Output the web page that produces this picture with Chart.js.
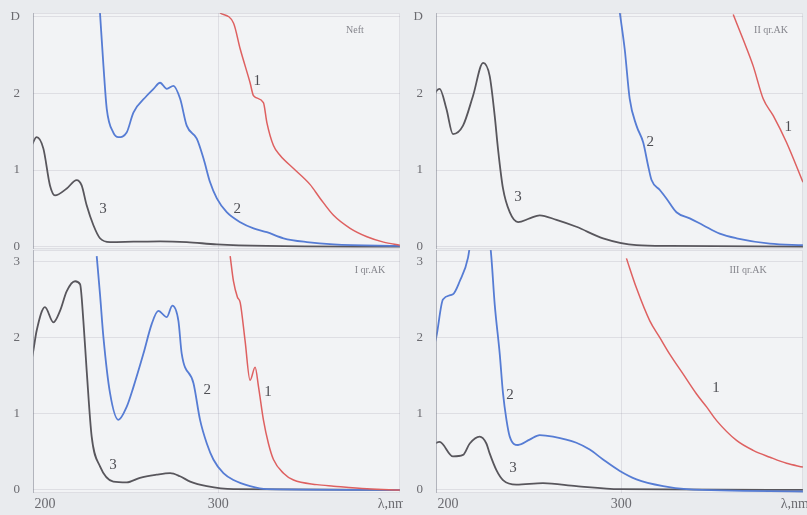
<!DOCTYPE html>
<html>
<head>
<meta charset="utf-8">
<script src="https://cdn.jsdelivr.net/npm/chart.js@4.4.1/dist/chart.umd.min.js"></script>
<style>
  html, body { margin: 0; padding: 0; background: #e9ebee; }
  #wrap { position: relative; width: 807px; height: 515px; overflow: hidden; }
  canvas { position: absolute; }
</style>
</head>
<body>
<div id="wrap">
  <canvas id="c-neft" width="403" height="250" style="left:0;top:0"></canvas>
  <canvas id="c-g2"   width="404" height="250" style="left:403px;top:0"></canvas>
  <canvas id="c-g1"   width="403" height="265" style="left:0;top:250px"></canvas>
  <canvas id="c-g3"   width="404" height="265" style="left:403px;top:250px"></canvas>
</div>
<script>
'use strict';

/* ── DATA: [wavelength nm, optical density D] ───────────── */
const wlTicks = [200, 300];
const dTicks  = [0, 1, 2, 3];

// Neft
const neft1 = [[301,3.05],[308.8,2.92],[312.7,2.58],[318.4,2.14],[320.4,1.97],[326.1,1.88],[328.1,1.62],
  [331.9,1.32],[335.8,1.19],[343.5,1.02],[353.1,0.81],[358.9,0.63],[366.6,0.41],[376.2,0.24],[385.9,0.13],
  [395.5,0.06],[405,0.02]];
const neft2 = [[231.7,3.05],[233.7,2.36],[235.6,1.8],[239.4,1.49],[242.3,1.43],[247.1,1.49],[251,1.75],
  [258.7,1.97],[262.6,2.06],[266.4,2.14],[270.3,2.06],[274.1,2.1],[278,1.93],[281.8,1.58],[287.6,1.41],
  [291.5,1.15],[295.3,0.84],[299.2,0.63],[304.9,0.45],[312.7,0.32],[320.4,0.24],[328.1,0.19],[337.7,0.11],
  [351.2,0.06],[366.6,0.03],[405,0.01]];
const neft3 = [[192.2,1.32],[195.1,1.43],[199,1.28],[202.8,0.8],[205.7,0.67],[212.5,0.76],[218.2,0.87],
  [221.1,0.8],[224,0.54],[227.9,0.28],[231.7,0.11],[237.5,0.06],[251,0.065],[266.4,0.07],[281.8,0.06],
  [299.2,0.03],[328,0.01],[405,0.0]];

// II qr. AK
const g2c1 = [[364.7,3.03],[370.5,2.7],[376.2,2.36],[382,1.93],[387.8,1.71],[395.5,1.36],[405,0.84]];
const g2c2 = [[299.2,3.05],[302,2.58],[304.9,1.93],[308.8,1.58],[312.7,1.36],[315.5,1.06],[317.5,0.87],
  [322.3,0.74],[326.1,0.63],[331.9,0.45],[339.6,0.37],[347.3,0.28],[356.9,0.17],[366.6,0.11],[385.9,0.04],
  [405,0.02]];
const g2c3 = [[189.7,1.75],[191.3,1.93],[195.1,2.06],[199,1.8],[202.8,1.47],[208.6,1.58],[214.4,1.97],
  [220.2,2.4],[224,2.23],[226.9,1.71],[228.8,1.28],[231.7,0.76],[235.6,0.45],[240.4,0.32],[247.1,0.37],
  [252.9,0.41],[262.6,0.35],[274.1,0.26],[289.5,0.11],[308.8,0.02],[328,0.01],[405,0.0]];

// I qr. AK
const g1c1 = [[306.9,3.07],[308.8,2.74],[311.1,2.53],[312.7,2.46],[315.5,1.96],[318.4,1.44],[321.3,1.61],
  [323.3,1.35],[326.1,0.92],[329,0.61],[331.9,0.4],[337.7,0.22],[343.5,0.13],[357,0.07],[366.6,0.05],
  [385.9,0.015],[405,0.0]];
const g1c2 = [[229.8,3.07],[231.7,2.57],[233.7,2.0],[237.5,1.27],[242.3,0.92],[247.1,1.09],[251,1.35],
  [256.8,1.79],[261.6,2.18],[265.4,2.35],[270.3,2.27],[273.5,2.42],[277,2.22],[278.9,1.79],[285.7,1.4],
  [289.5,0.92],[293.4,0.61],[297.2,0.4],[303,0.22],[308.8,0.13],[318.4,0.05],[328.1,0.01],[405,0.0]];
const g1c3 = [[191.3,1.61],[193.2,1.83],[195.1,2.09],[199.9,2.4],[204.8,2.2],[208.6,2.35],[212.5,2.61],
  [217.3,2.74],[220.2,2.7],[222.1,2.22],[224,1.57],[226.9,0.7],[231.7,0.31],[239.4,0.11],[247.1,0.1],
  [254.8,0.16],[264.4,0.2],[272.2,0.22],[277.9,0.18],[283.8,0.11],[293.4,0.05],[308.8,0.01],[405,0.0]];

// III qr. AK
const g3c1 = [[303,3.04],[308.8,2.65],[316.5,2.22],[322.3,2.0],[328.1,1.78],[335.8,1.52],[343.5,1.26],
  [349.3,1.09],[355.1,0.91],[366.6,0.65],[376.2,0.52],[385.9,0.43],[395.5,0.35],[405,0.3]];
const g3c2 = [[189.3,1.67],[191.3,1.85],[193.2,2.01],[197,2.5],[202.8,2.57],[206.7,2.74],[211.5,3.05],
  [215,3.6],[219,3.8],[222.5,3.6],[225,3.05],[226.9,2.44],[229.8,1.79],[231.7,1.27],[233.7,0.92],
  [235.6,0.7],[240.4,0.59],[247.1,0.66],[252.9,0.72],[260.6,0.7],[274.1,0.62],[281.8,0.53],[289.5,0.4],
  [299.2,0.25],[308.8,0.14],[324.2,0.05],[337.7,0.01],[405,-0.02]];
const g3c3 = [[189.3,0.57],[195.1,0.63],[202.8,0.44],[208.6,0.46],[212.5,0.61],[218.2,0.7],[222.1,0.61],
  [224,0.48],[227.9,0.26],[231.7,0.13],[239.4,0.07],[254.8,0.09],[274.1,0.05],[299.2,0.01],[405,0.0]];

/* ── CURVE NUMBER LABELS (data coords) ───────────── */
const neftTags = [['1',322.5,2.16],['2',311,0.49],['3',233.5,0.49]];
const g2Tags   = [['1',396.5,1.56],['2',316.7,1.36],['3',240.4,0.65]];
const g1Tags   = [['1',328.8,1.29],['2',293.6,1.31],['3',239.2,0.33]];
const g3Tags   = [['1',354.8,1.34],['2',235.8,1.25],['3',237.5,0.29]];

/* ── STYLE ───────────── */
const red   = 'rgb(222,96,96)';
const blue  = 'rgb(86,124,212)';
const dark  = 'rgb(88,86,92)';
const gridC = 'rgba(150,152,165,0.22)';
const axisC = 'rgba(125,128,140,0.45)';
const txtC  = '#6b6b70';
const serif = '"Liberation Serif", "DejaVu Serif", serif';

const toPts = arr => arr.map(([x, y]) => ({ x, y }));

// kill the label-overflow padding chart.js adds around the plot
const noPad = s => { s.paddingTop = 0; s.paddingBottom = 0; s.paddingLeft = 0; s.paddingRight = 0; };

// Plugin: plot fill, frame, curve numbers, panel title, λ label
const decor = {
  id: 'decor',
  beforeDraw(chart) {
    const { ctx, chartArea: a } = chart;
    ctx.save();
    ctx.fillStyle = '#f2f3f5';
    ctx.fillRect(a.left, a.top, a.right - a.left, a.bottom - a.top);
    ctx.restore();
  },
  afterDatasetsDraw(chart, args, o) {
    const { ctx, chartArea: a, scales: { x, y } } = chart;
    ctx.save();
    ctx.strokeStyle = gridC;
    ctx.lineWidth = 1;
    ctx.strokeRect(a.left + 0.5, a.top + 0.5, a.right - a.left - 1, a.bottom - a.top - 1);
    ctx.strokeStyle = axisC;
    ctx.beginPath();
    ctx.moveTo(a.left + 0.5, a.top);
    ctx.lineTo(a.left + 0.5, a.bottom);
    ctx.stroke();

    ctx.fillStyle = '#4e4e54';
    ctx.font = '15px ' + serif;
    ctx.textAlign = 'center';
    ctx.textBaseline = 'middle';
    o.tags.forEach(([t, vx, vy]) => ctx.fillText(t, x.getPixelForValue(vx), y.getPixelForValue(vy)));

    ctx.fillStyle = '#85858c';
    ctx.font = '10px ' + serif;
    ctx.fillText(o.title, a.right + o.titleDx, a.top + o.titleDy);

    if (o.lambda) {
      ctx.fillStyle = txtC;
      ctx.font = '14px ' + serif;
      ctx.textAlign = 'right';
      ctx.fillText('λ,nm', a.right + 6, a.bottom + 11);
    }
    ctx.restore();
  },
};

function makePanel(id, series, tags, title, titleDx, titleDy, bottom, padRight) {
  const colors = [red, blue, dark];
  new Chart(document.getElementById(id), {
    type: 'line',
    data: {
      datasets: series.map((s, i) => ({
        data: toPts(s),
        borderColor: colors[i],
        borderWidth: i === 0 ? 1.5 : 1.8,
        pointRadius: 0,
        cubicInterpolationMode: 'monotone',
        fill: false,
      })),
    },
    options: {
      responsive: false,
      animation: false,
      layout: { padding: { top: bottom ? 0 : 13, right: padRight, left: 0, bottom: 0 } },
      plugins: {
        legend: { display: false },
        tooltip: { enabled: false },
        decor: { tags, title, titleDx, titleDy, lambda: bottom },
      },
      scales: {
        x: {
          type: 'linear',
          min: 193,
          max: 405,
          afterBuildTicks: s => { s.ticks = wlTicks.map(v => ({ value: v })); },
          afterFit: s => { s.height = bottom ? 22 : 1; noPad(s); },
          grid: { color: c => (c.tick && c.tick.value === 300 ? gridC : 'transparent'), drawTicks: false },
          border: { display: false },
          ticks: { display: bottom, color: txtC, padding: 3, font: { family: serif, size: 14 } },
        },
        y: {
          min: bottom ? -0.04 : -0.03,
          max: bottom ? 3.15 : 3.05,
          afterBuildTicks: s => { s.ticks = dTicks.map(v => ({ value: v })); },
          afterFit: s => { s.width = 33; noPad(s); },
          grid: { color: gridC, drawTicks: false },
          border: { display: false },
          ticks: {
            color: txtC,
            padding: 13,
            font: { family: serif, size: 13 },
            callback: v => (v === 3 && !bottom ? 'D' : String(v)),
          },
        },
      },
    },
    plugins: [decor],
  });
}

makePanel('c-neft', [neft1, neft2, neft3], neftTags, 'Neft', -45, 17, false, 3);
makePanel('c-g2',   [g2c1, g2c2, g2c3],   g2Tags,   'II qr.AK', -32, 17, false, 4);
makePanel('c-g1',   [g1c1, g1c2, g1c3],   g1Tags,   'I qr.AK', -30, 20, true, 3);
makePanel('c-g3',   [g3c1, g3c2, g3c3],   g3Tags,   'III qr.AK', -55, 20, true, 4);
</script>
</body>
</html>
